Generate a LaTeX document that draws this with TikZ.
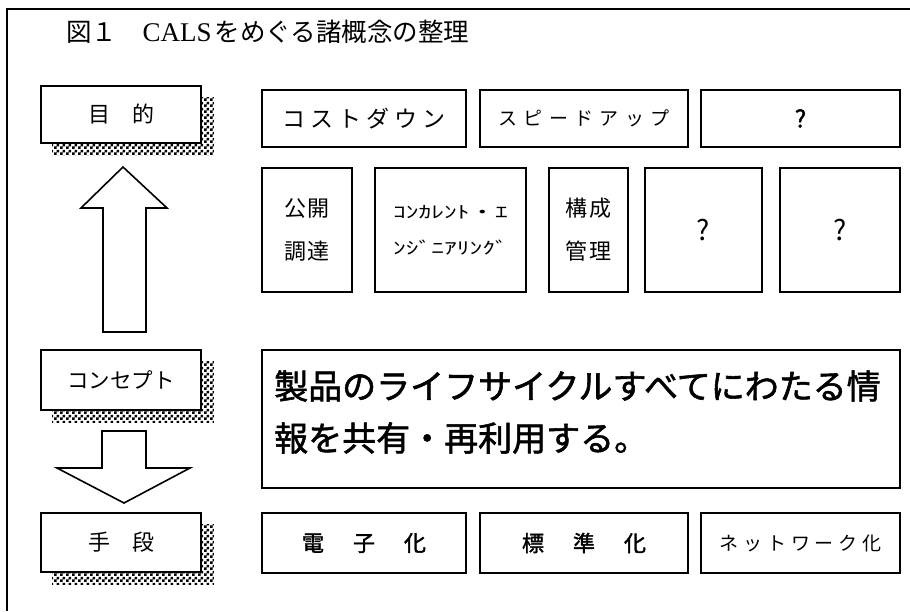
\documentclass[tikz,border=0pt]{standalone}
\usepackage{fontspec}
\usepackage{graphicx}
\usetikzlibrary{patterns,backgrounds}
\newfontfamily\jp{Noto Sans CJK JP}
\newfontfamily\jpb[FakeBold=1.6]{Noto Sans CJK JP}
\newfontfamily\ser{Liberation Serif}
\pgfdeclarepatternformonly{finecheck}{\pgfqpoint{0pt}{0pt}}{\pgfqpoint{6pt}{6pt}}{\pgfqpoint{6pt}{6pt}}{%
  \pgfpathrectangle{\pgfqpoint{0pt}{0pt}}{\pgfqpoint{3pt}{3pt}}%
  \pgfpathrectangle{\pgfqpoint{3pt}{3pt}}{\pgfqpoint{3pt}{3pt}}%
  \pgfusepath{fill}}
\newcommand\kk[1]{\kern#1pt}
\begin{document}
\begin{tikzpicture}[x=1pt,y=-1pt,
  box/.style={draw, line width=1.6pt, fill=white, inner sep=0pt, align=center, font=\jp},
  lbox/.style={box, minimum width=160pt},
  shadowfill/.style={pattern=finecheck},
  bigarrow/.style={draw, line width=1.6pt, fill=white, line join=miter}
]
\useasboundingbox (0,0) rectangle (910,611);
% frame
\draw[line width=1.2pt] (7,611) -- (7,9) -- (910,9);
% title
\node[anchor=west, inner sep=0pt, font=\jp\fontsize{25.5pt}{30pt}\selectfont] (title) at (66,32)
  {図１　{\ser\fontsize{27pt}{30pt}\selectfont CALS}\kk{3}をめぐる諸概念の整理};

% left column
\node[lbox, minimum height=57pt, font=\jp\fontsize{22pt}{26pt}\selectfont] (mokuteki) at (121,114.5) {目\hspace{1em}的};
\node[lbox, minimum height=60pt, font=\jp\fontsize{21.5pt}{26pt}\selectfont] (concept) at (121,380) {コンセプト};
\node[lbox, minimum height=59pt, font=\jp\fontsize{22pt}{26pt}\selectfont] (shudan) at (121,542.5) {手\hspace{1em}段};
\begin{scope}[on background layer]
  \foreach \n in {mokuteki,concept,shudan}{
    \fill[shadowfill] ([shift={(12,12)}]\n.north west) rectangle ([shift={(12,12)}]\n.south east);
  }
\end{scope}

% up arrow
\coordinate (uptip) at (123,167);
\draw[bigarrow] (uptip) -- (167,208) -- (146,208) -- (146,332) -- (103,332) -- (103,208) -- (81,208) -- cycle;
% down arrow
\coordinate (dntip) at (124,503);
\draw[bigarrow] (102,431) -- (146,431) -- (146,468) -- (190,468) -- (dntip) -- (57,468) -- (102,468) -- cycle;

% row 1
\node[box, minimum width=204pt, minimum height=57pt, font=\jp\fontsize{23pt}{26pt}\selectfont] (cost) at (364,118.5)
  {コ\kk{5}ス\kk{5}ト\kk{5}ダ\kk{5}ウ\kk{5}ン};
\node[box, minimum width=208pt, minimum height=57pt, font=\jp\fontsize{19pt}{22pt}\selectfont] (speed) at (584,118.5)
  {ス\kk{6.5}ピ\kk{6.5}ー\kk{6.5}ド\kk{6.5}ア\kk{6.5}ッ\kk{6.5}プ};
\node[box, minimum width=199pt, minimum height=57pt, font=\jpb\fontsize{24pt}{28pt}\selectfont] (qa) at (800.5,118.5) {?};

% row 2
\node[box, minimum width=90pt, minimum height=124pt, font=\jp\fontsize{22pt}{25pt}\selectfont] (kokai) at (307,230)
  {公\kk{1.5}開\\[18pt]調\kk{1.5}達};
\node[box, minimum width=151pt, minimum height=124pt, font=\jp\fontsize{17pt}{20pt}\selectfont] (concur) at (450.5,230)
  {\scalebox{1.5}[1]{ｺﾝｶﾚﾝﾄ・ｴ}\\[16pt]\scalebox{1.5}[1]{ﾝｼﾞﾆｱﾘﾝｸﾞ}};
\node[box, minimum width=79pt, minimum height=124pt, font=\jp\fontsize{22pt}{25pt}\selectfont] (kosei) at (588.5,230)
  {構\kk{1.5}成\\[18pt]管\kk{1.5}理};
\node[box, minimum width=117pt, minimum height=124pt, font=\jp\fontsize{28pt}{30pt}\selectfont] (qb) at (703.5,230) {?};
\node[box, minimum width=120pt, minimum height=124pt, font=\jp\fontsize{28pt}{30pt}\selectfont] (qc) at (840,230) {?};

% concept text box
\node[box, minimum width=638pt, minimum height=138pt] (cbox) at (581,419) {};
\node[anchor=west, inner sep=0pt, align=left, font=\jpb\fontsize{34pt}{52pt}\selectfont] (ctext) at (274,412)
  {製品のライフサイクルすべてにわたる情\\報を共有・再利用する。};

% row 3
\node[box, minimum width=204pt, minimum height=60pt, font=\jpb\fontsize{22pt}{25pt}\selectfont] (denshi) at (364,543)
  {電\kk{29}子\kk{29}化};
\node[box, minimum width=208pt, minimum height=60pt, font=\jpb\fontsize{22pt}{25pt}\selectfont] (hyojun) at (584,543)
  {標\kk{29}準\kk{29}化};
\node[box, minimum width=199pt, minimum height=60pt, font=\jp\fontsize{19pt}{22pt}\selectfont] (network) at (800.5,543)
  {ネ\kk{5}ッ\kk{5}ト\kk{5}ワ\kk{5}ー\kk{5}ク\kk{5}化};
\end{tikzpicture}
\end{document}
